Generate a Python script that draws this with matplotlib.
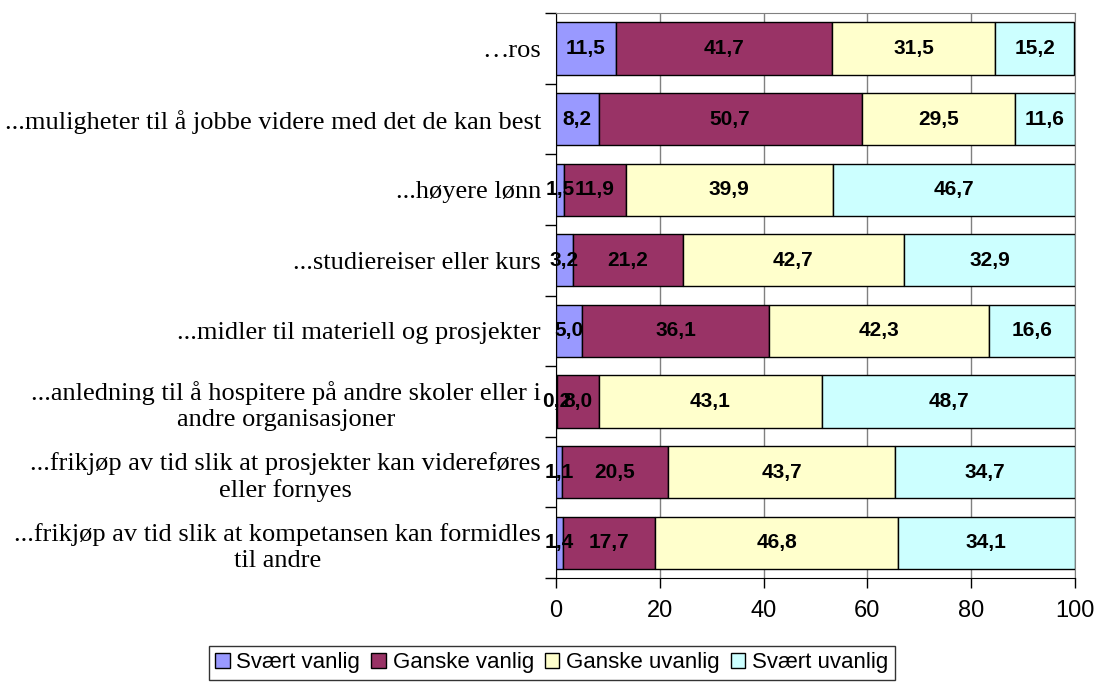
import matplotlib
matplotlib.use("Agg")
import matplotlib.pyplot as plt
import numpy as np

categories = [
    "…ros",
    "...muligheter til å jobbe videre med det de kan best",
    "...høyere lønn",
    "...studiereiser eller kurs",
    "...midler til materiell og prosjekter",
    "...anledning til å hospitere på andre skoler eller i\nandre organisasjoner",
    "...frikjøp av tid slik at prosjekter kan videreføres\neller fornyes",
    "...frikjøp av tid slik at kompetansen kan formidles\ntil andre",
]
series_names = ["Svært vanlig", "Ganske vanlig", "Ganske uvanlig", "Svært uvanlig"]
svaert_vanlig = [11.5, 8.2, 1.5, 3.2, 5.0, 0.2, 1.1, 1.4]
ganske_vanlig = [41.7, 50.7, 11.9, 21.2, 36.1, 8.0, 20.5, 17.7]
ganske_uvanlig = [31.5, 29.5, 39.9, 42.7, 42.3, 43.1, 43.7, 46.8]
svaert_uvanlig = [15.2, 11.6, 46.7, 32.9, 16.6, 48.7, 34.7, 34.1]
colors = ["#9999FF", "#993366", "#FFFFCC", "#CCFFFF"]
x_ticks = [0, 20, 40, 60, 80, 100]

series = [svaert_vanlig, ganske_vanlig, ganske_uvanlig, svaert_uvanlig]

fig = plt.figure(figsize=(10.99, 6.91), dpi=100)
ax = fig.add_axes([0.506, 0.1635, 0.472, 0.8175])

y = np.arange(len(categories))
left = np.zeros(len(categories))
for name, vals, col in zip(series_names, series, colors):
    vals = np.array(vals)
    ax.barh(y, vals, left=left, height=0.74, color=col, edgecolor="black",
            linewidth=1.0, label=name, zorder=3)
    for yi, l, v in zip(y, left, vals):
        ax.text(l + v / 2, yi, f"{v:.1f}".replace(".", ","), ha="center", va="center",
                fontsize=15, fontweight="bold", family="Liberation Sans", zorder=4)
    left = left + vals

ax.set_xlim(0, 100)
ax.set_ylim(len(categories) - 0.5, -0.5)
ax.set_xticks(x_ticks)
ax.set_xticklabels([str(t) for t in x_ticks], family="Liberation Sans", fontsize=17)
ax.tick_params(axis="x", direction="out", length=7, width=1, pad=9)

ax.set_yticks(y)
ax.set_yticklabels(categories, family="Liberation Serif", fontsize=19, ma="center",
                   linespacing=1.25)
ax.tick_params(axis="y", which="major", length=0, pad=11)
ax.set_yticks(np.arange(len(categories) + 1) - 0.5, minor=True)
ax.tick_params(axis="y", which="minor", length=8, width=1, direction="out")

ax.grid(axis="x", color="#808080", linewidth=1, zorder=0)
for s in ["top", "right"]:
    ax.spines[s].set_color("#808080")
for s in ["left", "bottom"]:
    ax.spines[s].set_color("black")

leg = fig.legend(loc="lower center", bbox_to_anchor=(0.502, 0.0), ncol=4,
                 prop={"family": "Liberation Sans", "size": 16}, frameon=True,
                 fancybox=False, edgecolor="black", handlelength=0.65, handleheight=0.65,
                 handletextpad=0.3, columnspacing=0.5, borderpad=0.3)
leg.get_frame().set_linewidth(1)

fig.savefig("out.png", dpi=100)
